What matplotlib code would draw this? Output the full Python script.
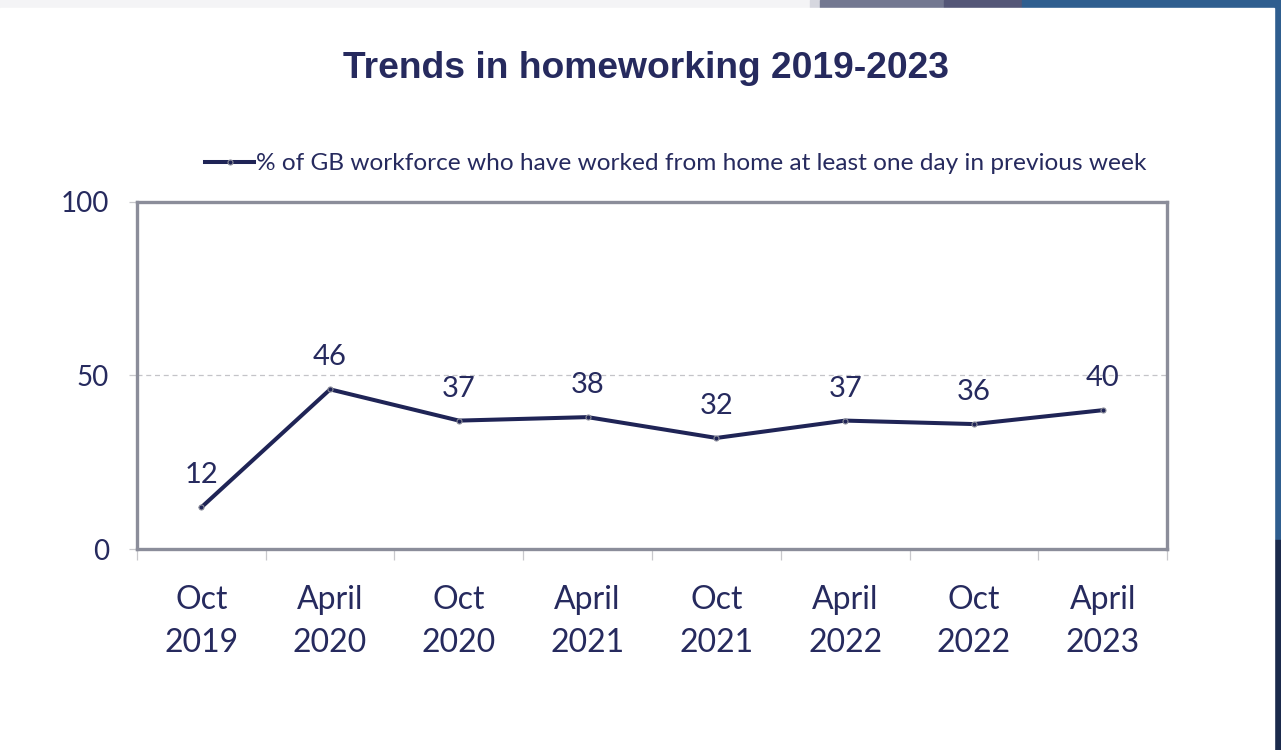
import matplotlib
matplotlib.use("Agg")
import matplotlib.pyplot as plt
from matplotlib.patches import Rectangle

# survey waves and share of GB workforce working from home (%)
periods = ["Oct\n2019", "April\n2020", "Oct\n2020", "April\n2021",
           "Oct\n2021", "April\n2022", "Oct\n2022", "April\n2023"]
share_wfh = [12, 46, 37, 38, 32, 37, 36, 40]
y_ticks = [0, 50, 100]

NAVY = "#1f2456"
TEXT = "#262a5e"
FRAME = "#8b8d9a"
BODY_FONT = ["Lato", "DejaVu Sans"]

fig = plt.figure(figsize=(12.81, 7.5), dpi=100)

# slide decoration behind the chart card
fig.patches.append(Rectangle((0, 0), 1, 1, transform=fig.transFigure,
                             color="#f4f4f6", zorder=-10))
bands = [(0.632, 0.640, "#d6d7df"), (0.640, 0.737, "#737891"),
         (0.737, 0.798, "#545677"), (0.798, 1.0, "#2f5e8f")]
for x0, x1, c in bands:
    fig.patches.append(Rectangle((x0, 0.95), x1 - x0, 0.05, transform=fig.transFigure,
                                 color=c, zorder=-9))
fig.patches.append(Rectangle((0.994, 0.28), 0.006, 0.72, transform=fig.transFigure,
                             color="#2f5e8f", zorder=-9))
fig.patches.append(Rectangle((0.994, 0.0), 0.006, 0.28, transform=fig.transFigure,
                             color="#1b2a4c", zorder=-9))
fig.patches.append(Rectangle((0, 0), 0.9945, 0.9893, transform=fig.transFigure,
                             color="white", zorder=-8))

ax = fig.add_axes([0.1069, 0.268, 0.8042, 0.4627])
x = list(range(len(periods)))
line, = ax.plot(x, share_wfh, color=NAVY, lw=2.9, marker="o", ms=3.6,
                mfc=NAVY, mec="#8b8d9a", mew=0.8, solid_joinstyle="miter",
                label="% of GB workforce who have worked from home at least one day in previous week")

for xi, v in zip(x, share_wfh):
    ax.annotate(str(v), (xi, v), xytext=(0, 23), textcoords="offset points",
                ha="center", va="center", fontsize=21, color=TEXT, family=BODY_FONT)

ax.set_xlim(-0.5, len(periods) - 0.5)
ax.set_ylim(0, 100)
ax.set_yticks(y_ticks)
ax.axhline(50, color="#c4c4c8", lw=0.9, ls=(0, (4, 3)), zorder=0)

ax.set_xticks(x)
ax.set_xticklabels(periods, family=BODY_FONT, fontsize=23, color=TEXT, linespacing=1.55)
ax.set_xticks([i - 0.5 for i in range(len(periods) + 1)], minor=True)
ax.tick_params(axis="x", which="major", length=0, pad=26)
ax.tick_params(axis="x", which="minor", length=8, width=0.9, color="#c8c8cc")
ax.tick_params(axis="y", length=6, width=0.9, color="#c8c8cc", pad=14,
               labelsize=20, labelcolor=TEXT)
for lab in ax.get_yticklabels():
    lab.set_family(BODY_FONT)

for s in ax.spines.values():
    s.set_color(FRAME)
    s.set_linewidth(2.4)

fig.text(0.504, 0.909, "Trends in homeworking 2019-2023", ha="center", va="center",
         fontsize=26.8, fontweight="bold", color=TEXT, family="Liberation Sans")

fig.legend(handles=[line], loc="center", bbox_to_anchor=(0.5277, 0.782), frameon=False,
           handlelength=2.0, handletextpad=0.1, prop={"family": BODY_FONT, "size": 17.6},
           labelcolor=TEXT)

fig.savefig("out.png", dpi=100)
